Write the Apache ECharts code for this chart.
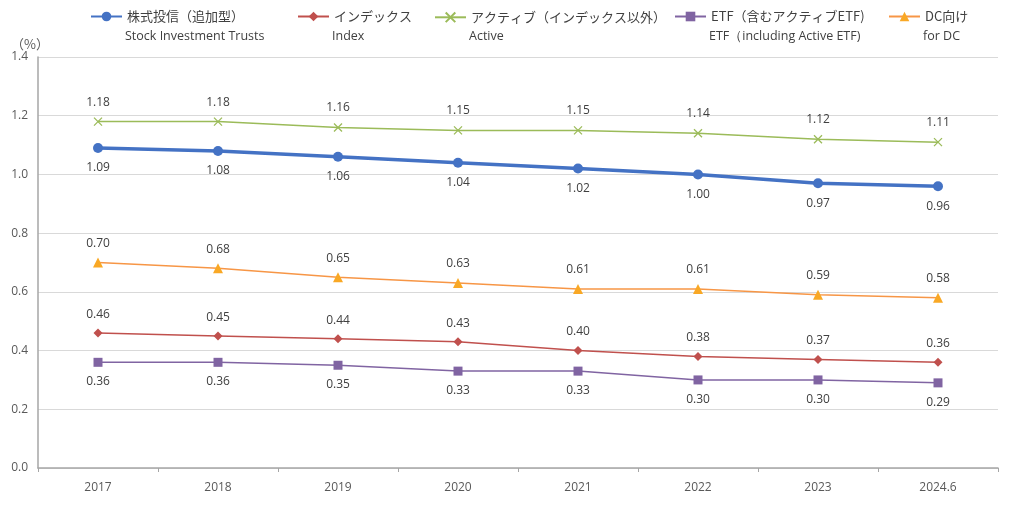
<!DOCTYPE html>
<html><head><meta charset="utf-8">
<script src="https://cdn.jsdelivr.net/npm/echarts@6/dist/echarts.min.js"></script>
<style>html,body{margin:0;padding:0;background:#fff}#c{width:1024px;height:506px}</style>
</head><body><div id="c"></div>
<script>
const categories = ['2017','2018','2019','2020','2021','2022','2023','2024.6'];
const stockTrusts = [1.09,1.08,1.06,1.04,1.02,1.00,0.97,0.96];
const indexFunds = [0.46,0.45,0.44,0.43,0.40,0.38,0.37,0.36];
const activeFunds = [1.18,1.18,1.16,1.15,1.15,1.14,1.12,1.11];
const etfFunds = [0.36,0.36,0.35,0.33,0.33,0.30,0.30,0.29];
const dcFunds = [0.70,0.68,0.65,0.63,0.61,0.61,0.59,0.58];
const yTicks = [0.0,0.2,0.4,0.6,0.8,1.0,1.2,1.4];

const names = ['株式投信（追加型）','インデックス','アクティブ（インデックス以外）','ETF（含むアクティブETF)','DC向け'];
const engNames = ['Stock Investment Trusts','Index','Active','ETF（including Active ETF)','for DC'];
const legendLeft = [90,297,434,674,888];

const FONT = '"Noto Sans CJK JP","Noto Sans",sans-serif';
const LATIN = '"Open Sans","Noto Sans",sans-serif';
const lbl = (pos, dist) => ({show:true, position:pos, distance:dist, color:'#404040', fontSize:12, fontFamily:LATIN, formatter: p => p.value.toFixed(2)});

const chart = echarts.init(document.getElementById('c'));
chart.setOption({
  animation:false,
  grid:{left:38,right:26,top:57,bottom:38},
  legend: names.map((n,i)=>({
    data:[n], left:legendLeft[i], top:10, itemWidth:31, itemHeight:12,
    textStyle:{color:'#404040', fontSize:13, fontFamily:FONT}, padding:0, selectedMode:false
  })),
  graphic: engNames.map((t,i)=>({
    type:'text', left:legendLeft[i]+35, top:30,
    style:{text:t, fill:'#404040', fontSize:12.5, fontFamily:LATIN}
  })),
  xAxis:{
    type:'category', data:categories, boundaryGap:true,
    axisLine:{lineStyle:{color:'#a6a6a6', width:1.5}},
    axisTick:{show:true, length:4, lineStyle:{color:'#a6a6a6'}},
    axisLabel:{color:'#595959', fontSize:12, margin:14, fontFamily:LATIN}
  },
  yAxis:{
    type:'value', min:0, max:1.4, interval:0.2,
    name:'（%）', nameLocation:'end', nameGap:6,
    nameTextStyle:{color:'#595959', fontSize:13, fontFamily:FONT, align:'center', padding:[0,0,0,-16]},
    axisLine:{show:true, lineStyle:{color:'#a6a6a6', width:1.5}},
    axisTick:{show:false},
    splitLine:{lineStyle:{color:'#d9d9d9'}},
    axisLabel:{color:'#595959', fontSize:12, margin:10, fontFamily:LATIN,
      formatter: v => { const t = yTicks.find(x=>Math.abs(x-v)<1e-9); return (t!==undefined?t:v).toFixed(1); }}
  },
  series:[
    {name:names[0], type:'line', data:stockTrusts, symbol:'circle', symbolSize:10,
     lineStyle:{color:'#4472C4', width:3.5}, itemStyle:{color:'#4472C4'}, label:lbl('bottom',9), z:5},
    {name:names[1], type:'line', data:indexFunds, symbol:'diamond', symbolSize:9,
     lineStyle:{color:'#C0504D', width:1.5}, itemStyle:{color:'#C0504D'}, label:lbl('top',8)},
    {name:names[2], type:'line', data:activeFunds, symbol:'path://M0,0L10,10M10,0L0,10', symbolSize:8,
     lineStyle:{color:'#9BBB59', width:1.5}, itemStyle:{color:'none', borderColor:'#9BBB59', borderWidth:1.3}, label:lbl('top',7)},
    {name:names[3], type:'line', data:etfFunds, symbol:'rect', symbolSize:9,
     lineStyle:{color:'#8064A2', width:1.5}, itemStyle:{color:'#8064A2'}, label:lbl('bottom',9)},
    {name:names[4], type:'line', data:dcFunds, symbol:'triangle', symbolSize:10,
     lineStyle:{color:'#F79646', width:1.5}, itemStyle:{color:'#F9A825'}, label:lbl('top',8)}
  ]
});
</script></body></html>
